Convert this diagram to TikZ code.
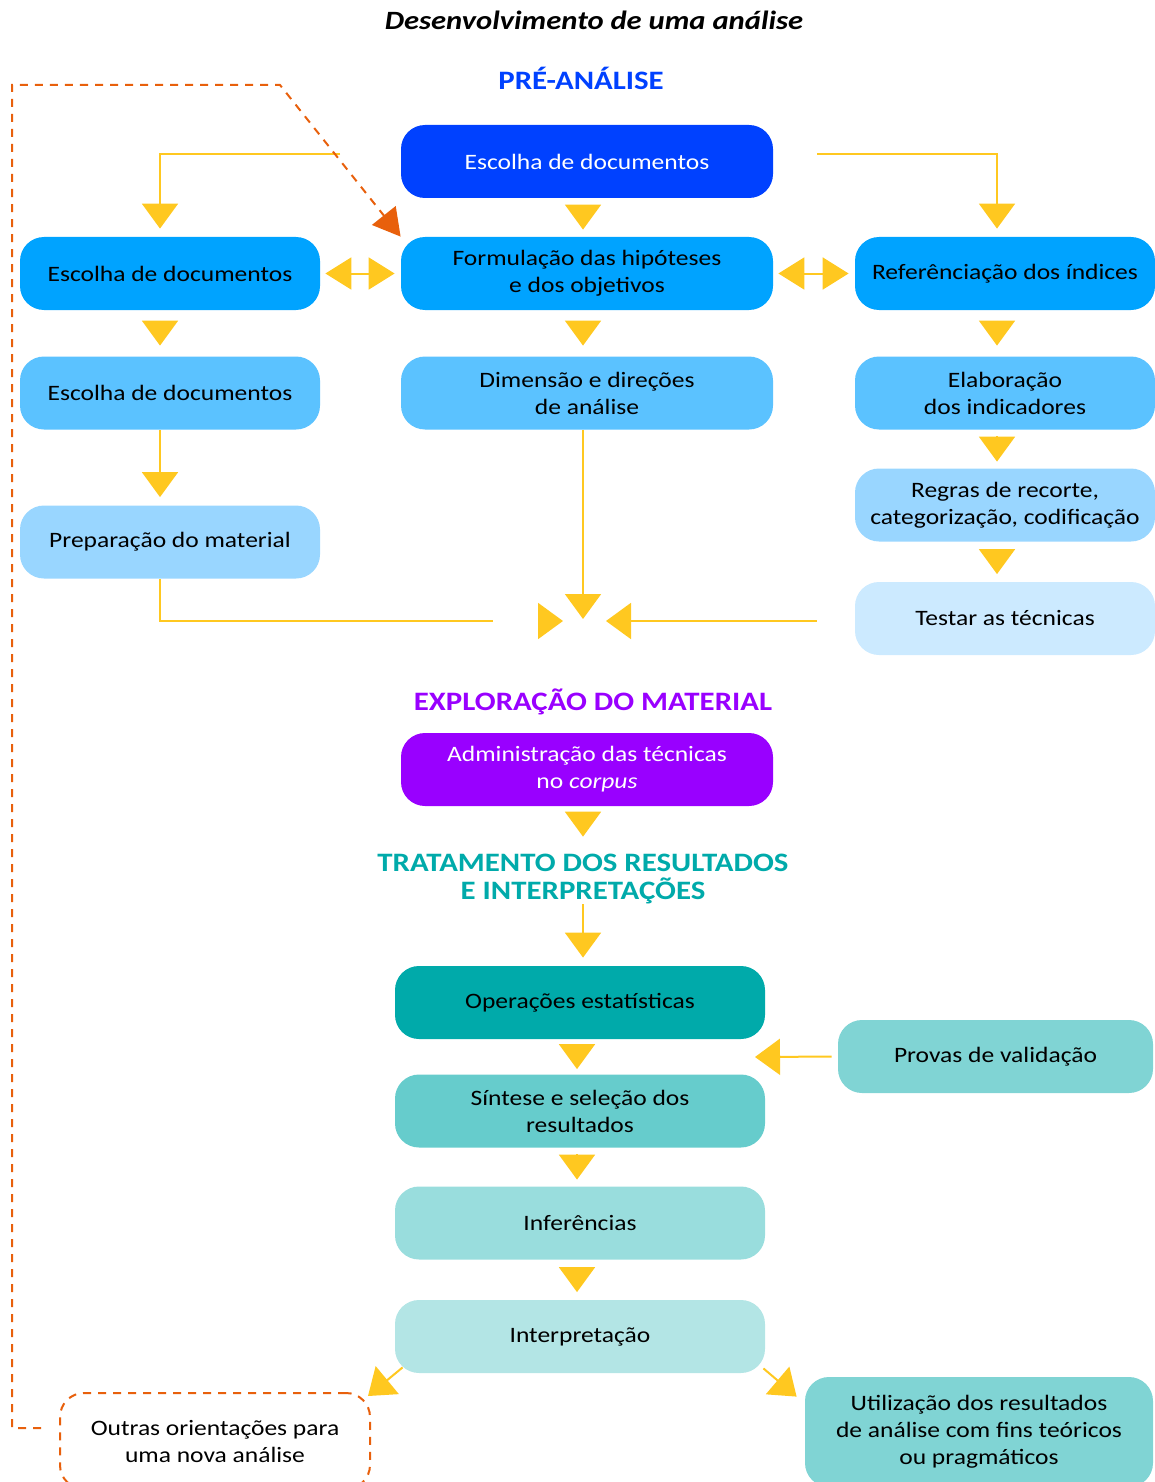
\documentclass[tikz,border=0pt]{standalone}
\usepackage{fontspec}
\setmainfont{Carlito}[FakeStretch=1.16]
\usetikzlibrary{arrows.meta}
\definecolor{preblue}{RGB}{0,65,255}
\definecolor{skyA}{RGB}{0,163,255}
\definecolor{skyB}{RGB}{91,194,255}
\definecolor{skyC}{RGB}{153,214,255}
\definecolor{skyD}{RGB}{204,234,255}
\definecolor{explore}{RGB}{153,0,255}
\definecolor{tealA}{RGB}{0,170,170}
\definecolor{tealB}{RGB}{102,204,204}
\definecolor{tealC}{RGB}{153,221,221}
\definecolor{tealD}{RGB}{179,229,229}
\definecolor{tealE}{RGB}{128,212,212}
\definecolor{arrowyellow}{RGB}{255,200,32}
\definecolor{looporange}{RGB}{232,96,12}

\begin{document}
\begin{tikzpicture}[x=0.5pt, y=-0.5pt,
    box/.style={rounded corners=12pt, minimum height=36.5pt, inner sep=2pt,
      align=center, font=\fontsize{11}{13.5}\selectfont},
    narrow/.style={box, minimum width=150pt},
    wide/.style={box, minimum width=186pt},
    heading/.style={font=\fontsize{13.3}{14}\selectfont\bfseries, align=center, inner sep=0pt},
    wire/.style={arrowyellow, line width=1pt},
    arr/.style={wire, -{Triangle[width=18pt,length=12.5pt]}},
    gaptip/.style={arr, shorten <=#1, shorten >=#1},
    twoway/.style={wire, {Triangle[width=16pt,length=13pt]}-{Triangle[width=16pt,length=13pt]},
      shorten <=2.5pt, shorten >=3pt},
    feedback/.style={looporange, line width=1pt, dash pattern=on 4pt off 3.5pt}
  ]
  \useasboundingbox (0,0) rectangle (1155,1482);
  \clip (0,0) rectangle (1155,1482);

  % columns for the arrows
  \coordinate (colL) at (160,0);
  \coordinate (colM) at (583,0);
  \coordinate (colR) at (997,0);
  \coordinate (colT) at (577,0);

  % Title and first stage
  \node[font=\fontsize{13.2}{15}\selectfont\bfseries\itshape] (title) at (594,20) {Desenvolvimento de uma análise};
  \node[heading, preblue] (preh) at (581,78) {PRÉ-ANÁLISE};

  \node[wide, fill=preblue, text=white] (escolha) at (587,161.5) {Escolha de documentos};
  \node[narrow, fill=skyA] (escA) at (170,273.5) {Escolha de documentos};
  \node[wide, fill=skyA] (form) at (587,273.5) {Formulação das hipóteses\\e dos objetivos};
  \node[narrow, fill=skyA] (refer) at (1005,273.5) {Referênciação dos índices};
  \node[narrow, fill=skyB] (escB) at (170,393) {Escolha de documentos};
  \node[wide, fill=skyB] (dimen) at (587,393) {Dimensão e direções\\de análise};
  \node[narrow, fill=skyB] (elab) at (1005,393) {Elaboração\\dos indicadores};
  \node[narrow, fill=skyC] (prep) at (170,542) {Preparação do material};
  \node[narrow, fill=skyC] (regras) at (1005,505) {Regras de recorte,\\categorização, codificação};
  \node[narrow, fill=skyD] (testar) at (1005,618.5) {Testar as técnicas};

  % Arrows of the first stage
  \coordinate (topL) at (340,154);
  \coordinate (topR) at (817,154);
  \coordinate (meet) at (583,621);
  \coordinate (lgap) at (493,621);
  \draw[arr, shorten >=4pt] (topL) -| (escA.north -| colL);
  \draw[arr, shorten >=4pt] (topR) -| (refer.north -| colR);
  \draw[gaptip=3.5pt] (escolha.south -| colM) -- (form.north -| colM);
  \draw[twoway] (escA.east) -- (form.west);
  \draw[twoway] (form.east) -- (refer.west);
  \draw[gaptip=5.25pt] (escA.south -| colL) -- (escB.north -| colL);
  \draw[gaptip=5.25pt] (form.south -| colM) -- (dimen.north -| colM);
  \draw[gaptip=5.25pt] (refer.south -| colR) -- (elab.north -| colR);
  \draw[arr, shorten >=4pt] (escB.south -| colL) -- (prep.north -| colL);
  \draw[gaptip=3.25pt] (elab.south -| colR) -- (regras.north -| colR);
  \draw[gaptip=3.75pt] (regras.south -| colR) -- (testar.north -| colR);
  % Meeting point
  \draw[arr, shorten >=1pt] (dimen.south -| meet) -- (meet);
  \draw[wire] (prep.south -| colL) |- (lgap);
  \draw[arr, shorten <=22.5pt, shorten >=10pt] (lgap) -- (meet);
  \draw[arr, shorten <=19pt, shorten >=11.5pt] (testar.west |- meet) -- (meet);

  % Second stage
  \node[heading, explore] (exph) at (593,702) {EXPLORAÇÃO DO MATERIAL};
  \node[wide, fill=explore, text=white] (admin) at (587,769.5) {Administração das técnicas\\no \textit{corpus}};

  % Third stage
  \node[heading, tealA] (trath) at (583,879) {TRATAMENTO DOS RESULTADOS\\E INTERPRETAÇÕES};
  \draw[arr, shorten <=5pt, shorten >=8.5pt] (admin.south -| colM) -- (trath.north -| colM);

  \node[box, minimum width=185pt, fill=tealA] (oper) at (580,1002.5) {Operações estatísticas};
  \node[box, minimum width=157.5pt, fill=tealE] (provas) at (995.5,1056.5) {Provas de validação};
  \node[box, minimum width=185pt, fill=tealB] (sint) at (580,1111) {Síntese e seleção dos\\resultados};
  \node[box, minimum width=185pt, fill=tealC] (infer) at (580,1223) {Inferências};
  \node[box, minimum width=185pt, fill=tealD] (interp) at (580,1336.5) {Interpretação};
  \node[box, minimum width=155pt, minimum height=48pt, draw=looporange, line width=1pt,
    dash pattern=on 4pt off 3.5pt, fill=white] (outras) at (215,1441) {Outras orientações para\\uma nova análise};
  \node[box, minimum width=174pt, minimum height=55pt, fill=tealE] (util) at (979,1432)
    {Utilização dos resultados\\de análise com fins teóricos\\ou pragmáticos};

  \coordinate (valin) at (755,1057);
  \draw[arr, shorten >=4pt] (trath.south -| colM) -- (oper.north -| colM);
  \draw[gaptip=2.5pt] (oper.south -| colT) -- (sint.north -| colT);
  \draw[arr, shorten <=3pt] (provas.west) -- (valin);
  \draw[gaptip=3.25pt] (sint.south -| colT) -- (infer.north -| colT);
  \draw[gaptip=3.75pt] (infer.south -| colT) -- (interp.north -| colT);
  \draw[arr] ([shift={(4pt,3pt)}]interp.south west) -- ([shift={(-1.5pt,-2pt)}]outras.north east);
  \draw[arr] ([shift={(-1pt,2.5pt)}]interp.south east) -- ([shift={(-4pt,-10pt)}]util.north west);

  % Back to the hypotheses
  \coordinate (fbL) at (12,85);
  \coordinate (fbR) at (280,85);
  \draw[feedback, -{Triangle[width=15pt,length=13.5pt]}, shorten <=9pt]
    ([yshift=6.5pt]outras.west) -| (fbL) -- (fbR) -- (form.north west);
\end{tikzpicture}
\end{document}
